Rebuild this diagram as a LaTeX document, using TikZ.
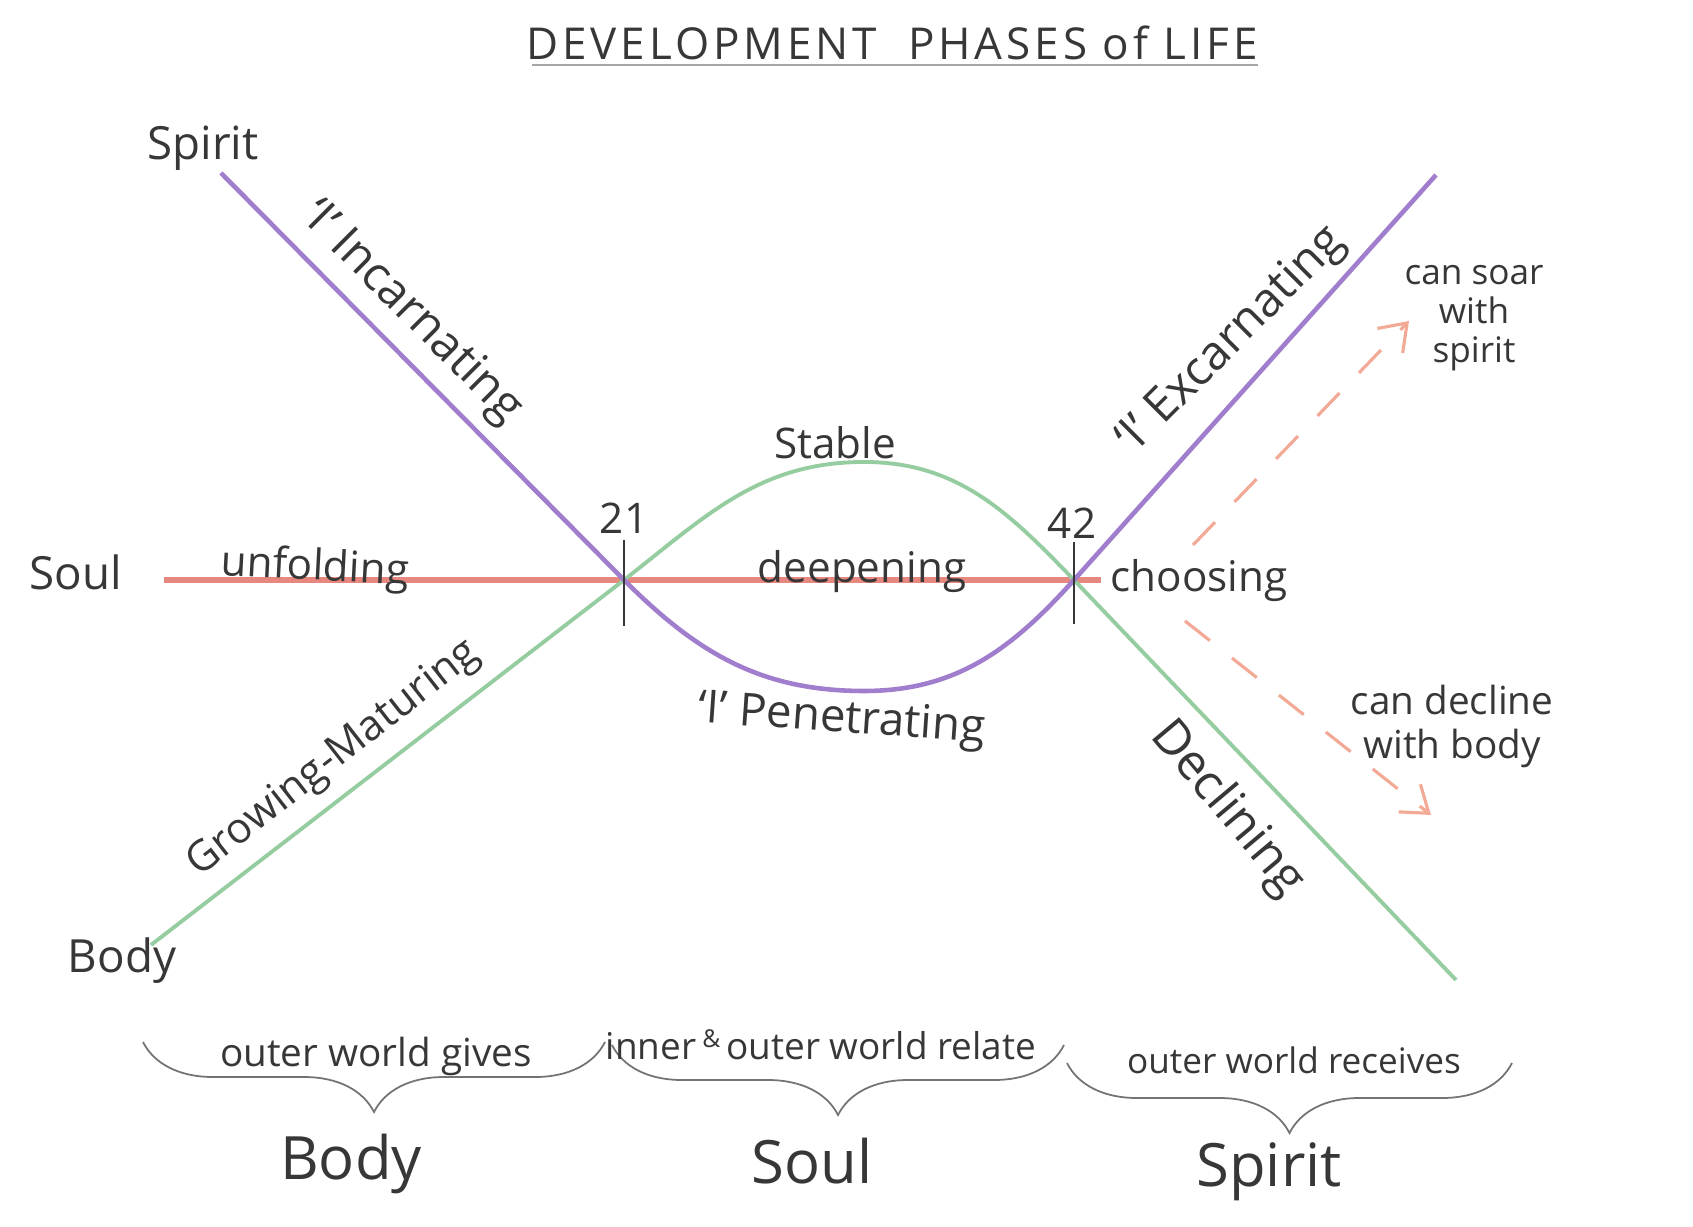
\documentclass[tikz,border=0pt]{standalone}
\usepackage{fontspec}
\setmainfont{Open Sans}
\usetikzlibrary{arrows.meta, decorations.pathreplacing}

\definecolor{lilac}{RGB}{160,125,205}
\definecolor{leaf}{RGB}{150,205,160}
\definecolor{rosy}{RGB}{230,135,128}
\definecolor{peach}{RGB}{242,170,150}
\definecolor{pencil}{RGB}{55,55,55}

\tikzset{
  ipath/.style={draw=lilac, line width=1.3pt},
  bodypath/.style={draw=leaf, line width=1.1pt},
  soulpath/.style={draw=rosy, line width=1.6pt},
  marker/.style={draw=pencil, line width=0.6pt},
  maybe/.style={draw=peach, line width=0.9pt, dash pattern=on 9pt off 8pt,
    -{Straight Barb[length=7pt,width=10pt]}},
  lbl/.style={text=pencil, font=\fontsize{12}{14}\selectfont, inner sep=1pt},
  small/.style={lbl, font=\fontsize{10}{11}\selectfont, align=center},
  big/.style={lbl, font=\fontsize{17}{19}\selectfont},
  phase/.style={draw=pencil!70, line width=0.5pt, decorate,
    decoration={brace, mirror, amplitude=0.7cm}},
}

\begin{document}
\begin{tikzpicture}[x=0.01cm, y=0.01cm]
\useasboundingbox (0,0) rectangle (1693,1227);

% title
\node[lbl, font=\fontsize{12.5}{15}\selectfont\addfontfeature{LetterSpace=9}] (title) at (892,1184) {DEVELOPMENT\ \ PHASES of LIFE};
\coordinate (ulleft) at (532,1162);
\coordinate (ulright) at (1258,1162);
\draw[pencil!45, line width=0.6pt] (ulleft) -- (ulright); % underline

% points of the three lines
\coordinate (spirittop) at (221,1054);
\coordinate (bodystart) at (151,282);
\coordinate (soulstart) at (164,647);
\coordinate (soulend) at (1101,647);
\coordinate (age21) at (624,647);
\coordinate (age42) at (1074,647);
\coordinate (stabletop) at (864,765);
\coordinate (penbottom) at (864,536);
\coordinate (excend) at (1436,1052);
\coordinate (declend) at (1456,247);

\draw[soulpath] (soulstart) -- (soulend); % soul
\draw[bodypath] (bodystart) -- (age21) to[out=38,in=180] (stabletop)
  to[out=0,in=134] (age42) -- (declend); % body
\draw[ipath] (spirittop) -- (age21) to[out=-45,in=180] (penbottom)
  to[out=0,in=-132] (age42) -- (excend); % 'I'

\draw[marker] (age21) ++(0,40) -- ++(0,-86); % 21
\draw[marker] (age42) ++(0,38) -- ++(0,-82); % 42
\node[lbl] (n21) at (624,709) {21};
\node[lbl] (n42) at (1072,704) {42};

% left side
\node[lbl, font=\fontsize{13}{15}\selectfont] (spiritlbl) at (203,1079) {Spirit};
\node[lbl, font=\fontsize{13}{15}\selectfont] (soullbl) at (76,655) {Soul};
\node[lbl, font=\fontsize{13}{15}\selectfont] (bodylbl) at (122,266) {Body};
\node[lbl, rotate=-45, font=\fontsize{13.5}{16}\selectfont] (incarn) at (411,914) {`I' Incarnating};
\node[lbl, rotate=38] (growing) at (334,468) {Growing-Maturing};
\node[lbl, rotate=-3] (unfold) at (315,658) {unfolding};

% middle
\node[lbl] (stable) at (835,784) {Stable};
\node[lbl] (deepen) at (862,655) {deepening};
\node[lbl, rotate=-4, font=\fontsize{13}{15}\selectfont] (penetr) at (842,506) {`I' Penetrating};

% right side
\node[lbl] (choose) at (1199,646) {choosing};
\node[lbl, rotate=45, font=\fontsize{13.5}{16}\selectfont] (excarn) at (1232,886) {`I' Excarnating};
\node[lbl, rotate=-50, font=\fontsize{14}{16}\selectfont] (decline) at (1227,418) {Declining};

\coordinate (soarfrom) at (1193,682);
\coordinate (soarto) at (1409,906);
\draw[maybe] (soarfrom) -- (soarto);
\coordinate (declfrom) at (1185,606);
\coordinate (declto) at (1431,412);
\draw[maybe] (declfrom) -- (declto);
\node[small] (soar) at (1474,909) {can soar\\with\\spirit};
\node[small, font=\fontsize{11}{12.5}\selectfont] (canfall) at (1452,501) {can decline\\with body};

% three phases
\coordinate (b1l) at (143,185);
\coordinate (b1r) at (605,185);
\coordinate (b2l) at (612,182);
\coordinate (b2r) at (1064,182);
\coordinate (b3l) at (1067,164);
\coordinate (b3r) at (1512,164);
\draw[phase] (b1l) -- (b1r);
\draw[phase] (b2l) -- (b2r);
\draw[phase] (b3l) -- (b3r);
\node[lbl, font=\fontsize{11}{13}\selectfont] (gives) at (376,171) {outer world gives};
\node[lbl, font=\fontsize{10.5}{13}\selectfont] (relate) at (821,182) {inner\,\raisebox{0.6ex}{\scriptsize\&}\,outer world relate};
\node[lbl, font=\fontsize{10}{12}\selectfont] (receives) at (1294,167) {outer world receives};
\node[big] (bodybot) at (351,63) {Body};
\node[big] (soulbot) at (812,66) {Soul};
\node[big] (spiritbot) at (1269,55) {Spirit};
\end{tikzpicture}
\end{document}
